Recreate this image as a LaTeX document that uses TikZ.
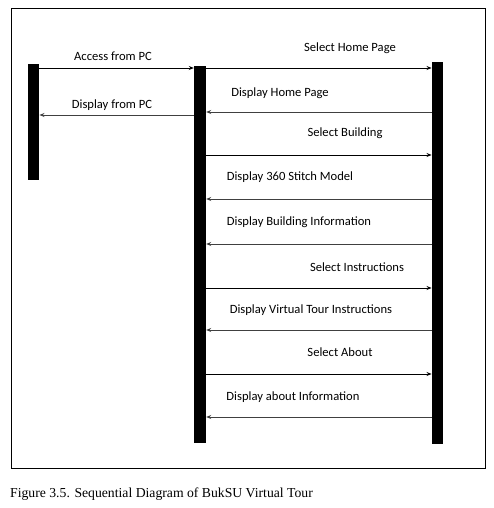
\documentclass[tikz,border=0pt]{standalone}
\usepackage{fontspec}
\setmainfont{Carlito}
\newfontfamily\capfont{Liberation Serif}
\usetikzlibrary{arrows.meta}
\begin{document}
\begin{tikzpicture}[x=1pt,y=-1pt,
  lifeline/.style={fill=black,draw=none,inner sep=0pt,minimum width=11.5pt},
  callmsg/.style={draw=black,line width=0.8pt,-{Stealth[length=5pt,width=4pt]}},
  replymsg/.style={draw=black!75,line width=0.8pt,-{Stealth[length=5pt,width=4pt]}},
  msglabel/.style={font=\fontsize{12.6}{14}\selectfont,inner sep=0pt,anchor=base}]
\useasboundingbox (0,0) rectangle (494,508);
% outer frame
\draw[line width=1pt] (11,9) rectangle (485,468);
% lifelines
\node[lifeline,minimum height=116pt] (pc)   at (33.5,122) {};
\node[lifeline,minimum height=377pt,minimum width=12pt] (web)  at (200,254.5) {};
\node[lifeline,minimum height=382pt] (tour) at (437.5,253) {};
% messages between PC and web
\draw[callmsg]  (pc.east |- 0,68)  -- (web.west |- 0,68);
\node[msglabel] (l1) at (113,61) {Access from PC};
\draw[replymsg] (web.west |- 0,115) -- (pc.east |- 0,115);
\node[msglabel] (l2) at (112,109) {Display from PC};
% messages between web and tour
\draw[callmsg]  (web.east |- 0,68)  -- (tour.west |- 0,68);
\node[msglabel] (l3) at (350,52) {Select Home Page};
\draw[replymsg] (tour.west |- 0,112) -- (web.east |- 0,112);
\node[msglabel] (l4) at (280,97) {Display Home Page};
\draw[callmsg]  (web.east |- 0,155) -- (tour.west |- 0,155);
\node[msglabel] (l5) at (345,136) {Select Building};
\draw[replymsg] (tour.west |- 0,199) -- (web.east |- 0,199);
\node[msglabel] (l6) at (290,180) {Display 360 Stitch Model};
\draw[replymsg] (tour.west |- 0,244) -- (web.east |- 0,244);
\node[msglabel] (l7) at (299,225) {Display Building Information};
\draw[callmsg]  (web.east |- 0,288) -- (tour.west |- 0,288);
\node[msglabel] (l8) at (357,271) {Select Instructions};
\draw[replymsg] (tour.west |- 0,330) -- (web.east |- 0,330);
\node[msglabel] (l9) at (311,313) {Display Virtual Tour Instructions};
\draw[callmsg]  (web.east |- 0,374) -- (tour.west |- 0,374);
\node[msglabel] (l10) at (340,356) {Select About};
\draw[replymsg] (tour.west |- 0,417) -- (web.east |- 0,417);
\node[msglabel] (l11) at (293,400) {Display about Information};
% caption
\node[font=\capfont\fontsize{13.7}{16}\selectfont,anchor=base west,inner sep=0pt] (cap) at (10,497) {Figure 3.5. Sequential Diagram of BukSU Virtual Tour};
\end{tikzpicture}
\end{document}
